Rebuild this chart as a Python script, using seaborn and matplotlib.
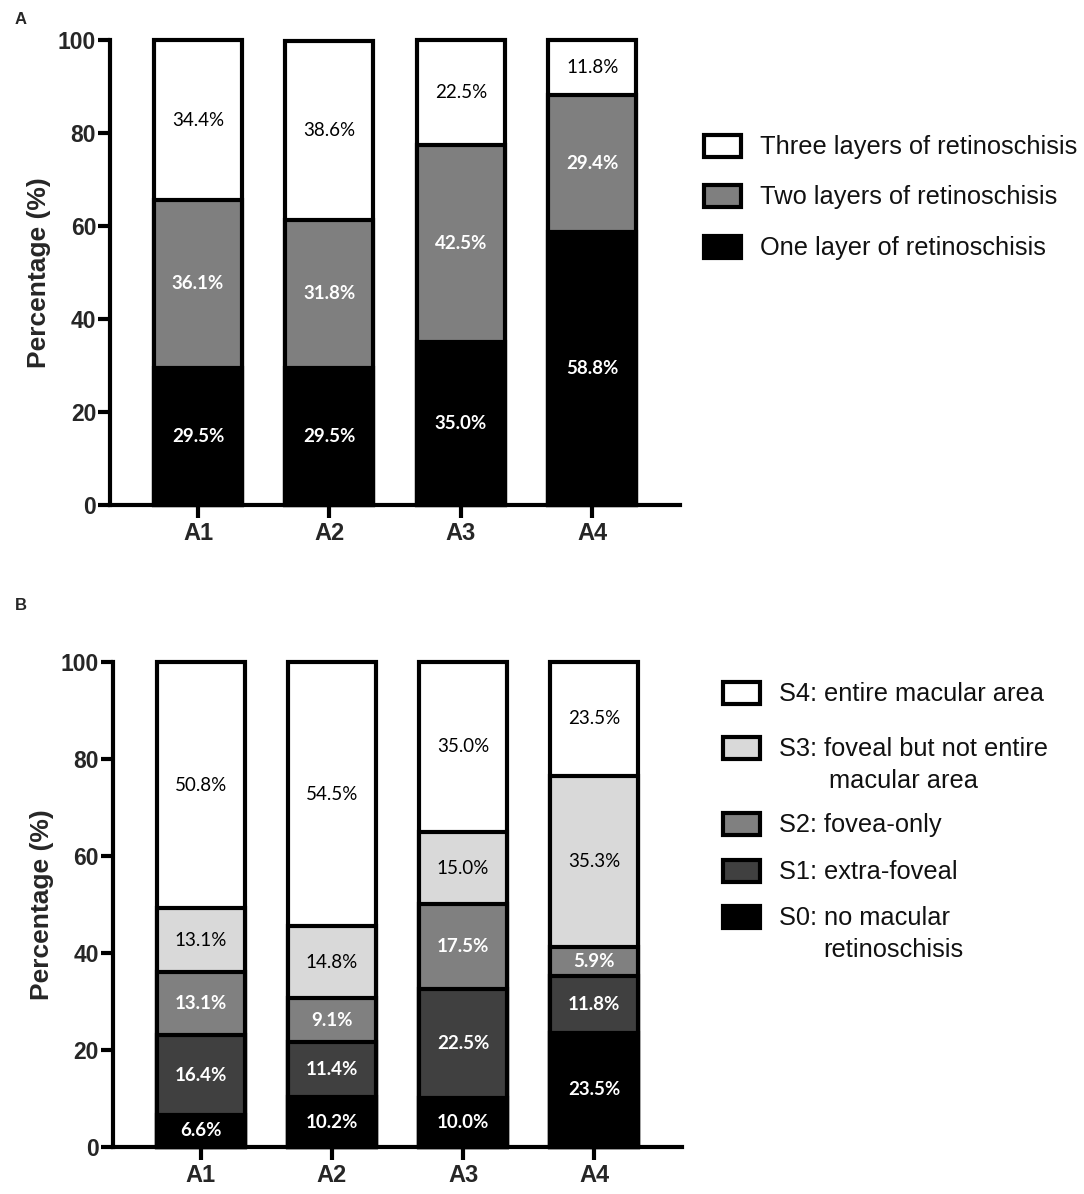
import numpy as np
import pandas as pd
import matplotlib
matplotlib.use("Agg")
import matplotlib.pyplot as plt
import seaborn as sns
from matplotlib.patches import Rectangle

groups = ["A1", "A2", "A3", "A4"]

# panel A - number of retinoschisis layers (%)
one_layer = [29.5, 29.5, 35.0, 58.8]
two_layers = [36.1, 31.8, 42.5, 29.4]
three_layers = [34.4, 38.6, 22.5, 11.8]
layer_names = [["One layer of retinoschisis"], ["Two layers of retinoschisis"],
               ["Three layers of retinoschisis"]]
layer_colors = ["#000000", "#7f7f7f", "#ffffff"]

# panel B - macular extent (%)
s0 = [6.6, 10.2, 10.0, 23.5]
s1 = [16.4, 11.4, 22.5, 11.8]
s2 = [13.1, 9.1, 17.5, 5.9]
s3 = [13.1, 14.8, 15.0, 35.3]
s4 = [50.8, 54.5, 35.0, 23.5]
stage_names = [["S0: no macular", "retinoschisis"], ["S1: extra-foveal"], ["S2: fovea-only"],
               ["S3: foveal but not entire", "macular area"], ["S4: entire macular area"]]
stage_colors = ["#000000", "#404040", "#808080", "#d9d9d9", "#ffffff"]

sns.set_style("ticks")
plt.rcParams['font.family'] = ['Liberation Sans', 'DejaVu Sans']

W, H = 1084, 1194


def stacked(ax, series, colors, light):
    cum = np.cumsum(np.array(series), axis=0)
    # tallest stack first, smaller cumulative bars drawn on top of it
    for i in reversed(range(len(series))):
        df = pd.DataFrame({"group": groups, "value": cum[i]})
        sns.barplot(data=df, x="group", y="value", color=colors[i], saturation=1,
                    edgecolor="black", linewidth=3, width=0.67, errorbar=None, ax=ax)
    for p in ax.patches:
        p.set_clip_on(False)
    for i, vals in enumerate(series):
        for j, v in enumerate(vals):
            mid = cum[i][j] - v / 2
            if i in light:
                ax.text(j, mid, f"{v:.1f}%", ha="center", va="center", color="black",
                        fontsize=13.5, family=["Lato", "DejaVu Sans"])
            else:
                ax.text(j, mid, f"{v:.1f}%", ha="center", va="center", color="white",
                        fontsize=13.5, fontweight="bold", family=["Lato", "DejaVu Sans"])

    ax.set_xlim(-0.67, 3.67)
    ax.set_ylim(0, 100)
    ax.set_yticks([0, 20, 40, 60, 80, 100])
    ax.set_yticklabels([0, 20, 40, 60, 80, 100], fontweight="bold", fontsize=16.5)
    ax.set_xticklabels(groups, fontweight="bold", fontsize=17)
    ax.set_xlabel("")
    ax.set_ylabel("Percentage (%)", fontsize=19, fontweight="bold", labelpad=5)
    ax.tick_params(axis="both", width=3, length=9, color="black")
    ax.tick_params(axis="y", pad=1)
    ax.tick_params(axis="x", pad=3)
    sns.despine(ax=ax)
    for s in ["left", "bottom"]:
        ax.spines[s].set_linewidth(3)
        ax.spines[s].set_color("black")


def legend(colors, names, x_box, x_text, rows, indents):
    # legend drawn top to bottom, last series first
    for c, lines, yc, ind in zip(colors[::-1], names[::-1], rows, indents[::-1]):
        fig.add_artist(Rectangle((x_box / W, 1 - (yc + 12) / H), 37 / W, 22 / H,
                                 transform=fig.transFigure, facecolor=c,
                                 edgecolor="black", linewidth=3))
        for k, line in enumerate(lines):
            xt = x_text + (ind if k else 0)
            fig.text(xt / W, 1 - (yc + 9 + 32 * k) / H, line, fontsize=18.3,
                     va="baseline", ha="left", color="#111111")


fig = plt.figure(figsize=(10.84, 11.94), dpi=100)
axA = fig.add_axes([0.1015, 0.577, 0.526, 0.3894])
axB = fig.add_axes([0.1042, 0.0394, 0.525, 0.4062])

stacked(axA, [one_layer, two_layers, three_layers], layer_colors, light=[2])
legend(layer_colors, layer_names, 704, 760, [145, 195, 246], [0, 0, 0])

stacked(axB, [s0, s1, s2, s3, s4], stage_colors, light=[3, 4])
legend(stage_colors, stage_names, 723, 779, [692, 747, 823, 870, 916], [44, 0, 0, 50, 0])

fig.text(15 / W, 1 - 20 / H, "A", fontsize=12, fontweight="bold", va="center")
fig.text(15 / W, 1 - 606 / H, "B", fontsize=12, fontweight="bold", va="center")

fig.savefig("out.png", dpi=100)
